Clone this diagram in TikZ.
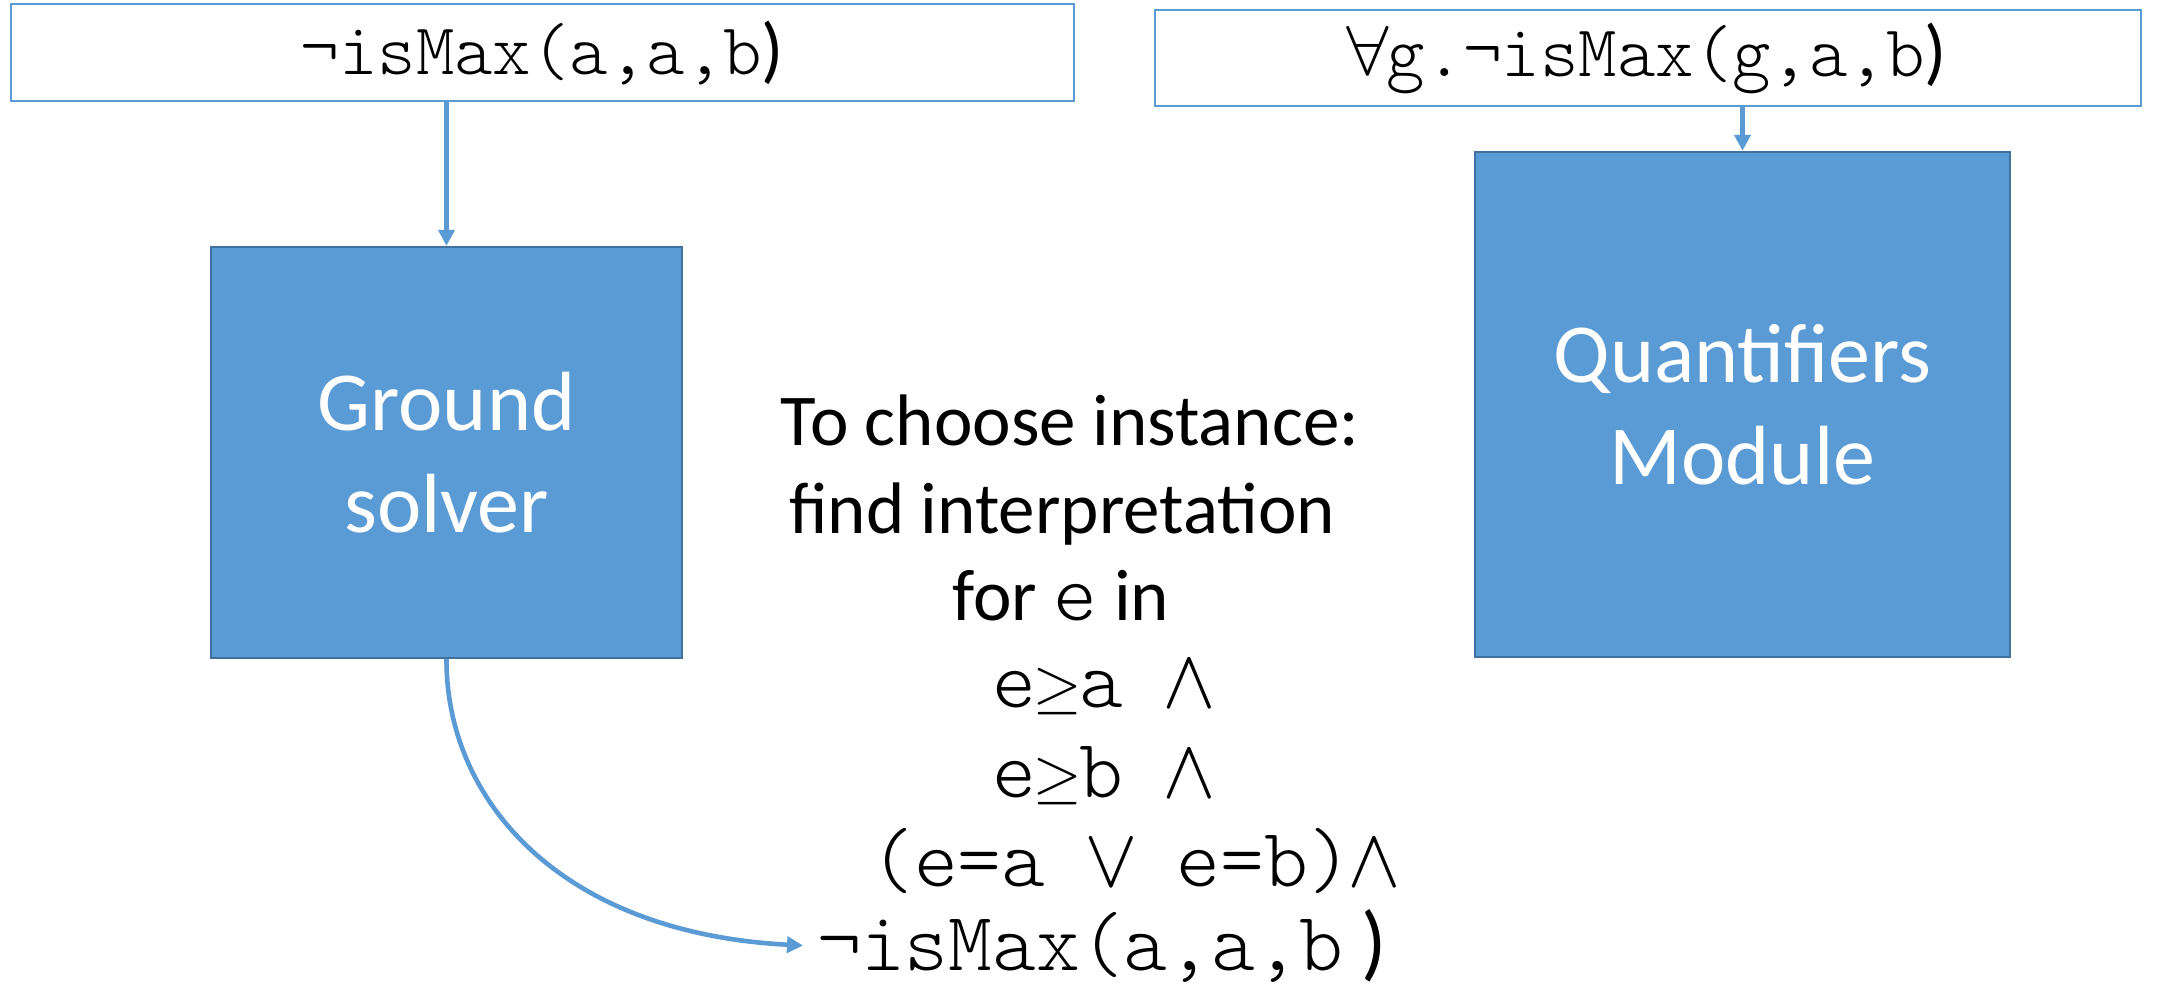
\documentclass[tikz,border=0pt]{standalone}
\usepackage{fontspec}
\setmainfont{Carlito}
\newfontfamily\cmono{lmmonolt10-regular.otf}
\newfontfamily\symf{latinmodern-math.otf}
\usetikzlibrary{arrows.meta}
\definecolor{boxblue}{HTML}{5B9BD5}
\definecolor{boxedge}{HTML}{41719C}
\newcommand\msym[1]{\makebox[0.525em]{\symf #1}}
\newcommand\gsym{\makebox[0.525em]{\fontsize{31}{31}\symf ≥}}
\newcommand\cpar{{\rmfamily )}}
\newcommand\rpar{\makebox[0.525em][r]{\rmfamily )}}
\begin{document}
\begin{tikzpicture}[x=0.5pt,y=-0.5pt,
  formbox/.style={draw=boxblue, line width=1pt, fill=white, inner sep=0pt, font=\fontsize{36.6}{42}\cmono},
  modbox/.style={draw=boxedge, line width=1.2pt, fill=boxblue, inner sep=0pt, text=white, align=center, font=\fontsize{42}{51}\selectfont},
  conn/.style={draw=boxblue, line width=2.3pt, -{Triangle[length=8pt,width=8pt]}},
  note/.style={inner sep=0pt, anchor=base, font=\fontsize{36.5}{44}\selectfont},
  monoline/.style={inner sep=0pt, anchor=base west, font=\fontsize{41.7}{48}\cmono}]
\useasboundingbox (0,0) rectangle (2159,987);
\fill[white] (0,0) rectangle (2159,987);
\node[formbox, minimum width=531.5pt, minimum height=48.5pt] (f1) at (542.5,52.5) {¬isMax(a,a,b\cpar};
\node[formbox, minimum width=493pt, minimum height=48pt] (f2) at (1647.5,58) {\msym{∀}g.¬isMax(g,a,b\cpar};
\node[modbox, minimum width=235.5pt, minimum height=205.5pt] (gs) at (446.5,452.5) {Ground\\solver};
\node[modbox, minimum width=267.5pt, minimum height=252.5pt] (qm) at (1742.5,404.5) {Quantifiers\\Module};
\node[note] (t1) at (1070,445) {To choose instance:};
\node[note] (t2) at (1062,533) {find interpretation};
\node[note] (t3) at (1061,620) {for {\fontsize{41.7}{48}\cmono e} in};
\node[monoline] (t4) at (992,707) {e\gsym a \msym{∧}};
\node[monoline] (t5) at (992,797) {e\gsym b \msym{∧}};
\node[monoline] (t6) at (870,886) {(e=a \msym{∨}\ e=b)\msym{∧}};
\node[monoline] (t7) at (817,970) {¬isMax(a,a,b\rpar};
\draw[conn] (gs.north |- f1.south) -- (gs.north);
\draw[conn] (qm.north |- f2.south) -- (qm.north);
\draw[conn] (gs.south) .. controls (446,800) and (560,933) .. ([xshift=-7pt]t7.west);
\end{tikzpicture}
\end{document}
